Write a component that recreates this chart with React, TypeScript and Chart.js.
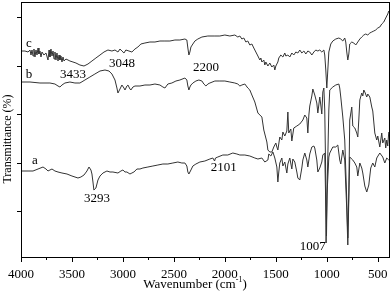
import React, { useEffect, useRef } from 'react';
import { Chart, registerables } from 'chart.js';

Chart.register(...registerables);

// ---- Data (wavenumber in cm-1, transmittance in arbitrary units) ----
const cWave = [3990,3961,3931,3912,3902,3892,3882,3873,3863,3853,3843,3833,3824,3814,3804,3794,3775,3755,3735,3725,3716,3706,3696,3686,3676,3667,3657,3647,3637,3627,3618,3608,3598,3588,3578,3559,3539,3520,3490,3461,3422,3382,3343,3304,3265,3225,3186,3147,3108,3078,3049,3029,3010,2990,2971,2941,2912,2882,2853,2824,2784,2735,2686,2637,2588,2539,2490,2441,2392,2373,2363,2353,2343,2333,2314,2294,2265,2225,2167,2098,2049,2000,1951,1902,1873,1853,1833,1814,1794,1775,1755,1735,1716,1696,1676,1657,1647,1637,1618,1608,1598,1578,1559,1539,1520,1510,1500,1480,1471,1451,1431,1412,1402,1382,1363,1343,1324,1304,1284,1265,1245,1225,1206,1186,1167,1147,1127,1108,1088,1069,1049,1029,1020,1010,1000,990,980,961,941,912,882,863,843,824,814,804,794,784,775,755,735,716,696,676,657,637,618,598,578,559,539,520,500,480,461,441,422,402,392];
const cT = [207,207,206,208,203,208,202,209,201,208,203,210,204,207,201,206,203,205,198,208,201,209,202,207,199,206,198,205,197,203,198,202,196,201,197,199,198,197,196,195,193,192,194,197,200,203,206,208,207,208,206,209,207,205,208,207,206,209,211,214,215,216,216,217,217,217,218,218,219,218,210,203,206,211,214,217,219,221,222,222,222,223,222,223,221,222,219,220,216,217,213,214,210,206,202,198,200,196,198,193,196,192,195,191,193,188,192,196,200,203,201,205,202,203,201,205,203,206,205,208,205,207,204,207,206,203,206,208,207,208,206,208,203,188,170,188,206,214,217,219,220,219,217,220,216,206,198,204,214,216,215,213,216,219,221,223,224,223,225,226,227,228,230,231,234,236,240,244,247];

const bWave = [3990,3912,3814,3716,3667,3637,3618,3598,3569,3520,3471,3422,3373,3324,3275,3225,3176,3137,3108,3078,3059,3049,3029,3010,2990,2980,2961,2951,2931,2922,2902,2882,2833,2784,2735,2686,2637,2608,2588,2559,2520,2480,2441,2392,2373,2363,2353,2343,2333,2314,2284,2255,2225,2206,2186,2167,2147,2098,2049,2000,1951,1902,1873,1853,1833,1804,1775,1755,1735,1706,1676,1637,1618,1588,1578,1559,1539,1520,1500,1490,1480,1461,1441,1431,1412,1392,1382,1373,1353,1343,1324,1294,1265,1235,1216,1196,1186,1176,1167,1147,1137,1118,1098,1088,1069,1059,1049,1039,1029,1020,1010,1003,995,980,971,941,912,882,873,863,843,824,804,794,784,775,755,745,725,706,696,686,676,657,647,637,627,608,598,578,559,549,529,510,500,480,461,451,431,422,412,402,392];
const bT = [176,176,175,175,174,172,171,173,175,176,175,175,178,181,184,187,188,187,184,178,170,165,169,173,170,168,172,173,169,168,171,172,172,173,173,174,173,171,170,174,175,177,178,180,178,172,168,171,173,175,177,178,177,174,172,174,175,177,177,177,176,175,174,172,173,174,170,168,163,156,145,141,128,116,108,106,106,111,115,111,108,121,118,126,122,127,146,125,129,117,130,132,134,138,143,140,125,143,152,162,169,163,155,145,161,153,144,166,170,148,78,22,78,148,168,171,173,174,170,161,141,118,58,20,68,138,151,132,130,125,121,138,158,165,162,168,166,161,164,161,151,147,125,118,122,111,125,115,120,110,118,112,126];

const aWave = [3990,3931,3882,3833,3784,3755,3735,3716,3696,3667,3637,3598,3549,3500,3441,3412,3382,3353,3333,3314,3304,3294,3285,3265,3245,3225,3196,3157,3127,3098,3049,3020,3000,2980,2961,2931,2912,2892,2863,2833,2804,2755,2706,2657,2608,2559,2510,2461,2422,2392,2373,2363,2353,2333,2314,2284,2245,2196,2147,2118,2101,2092,2069,2020,1971,1922,1882,1853,1804,1755,1706,1676,1637,1608,1578,1569,1549,1529,1510,1490,1480,1471,1461,1441,1431,1412,1392,1382,1363,1343,1333,1314,1294,1284,1265,1245,1235,1216,1196,1186,1167,1147,1127,1118,1098,1088,1069,1049,1039,1020,1013,1007,998,980,971,941,912,892,873,863,843,824,804,794,784,775,745,725,706,696,676,657,647,627,608,588,569,549,529,510,480,451,431,412,392];
const aT = [87,87,87,89,91,89,87,88,89,87,86,85,84,82,80,81,83,87,91,88,84,76,68,70,78,82,85,87,86,86,85,87,88,86,86,84,85,86,89,89,90,91,92,93,94,94,95,96,95,95,92,86,84,88,92,94,96,97,99,100,97,100,101,103,103,105,104,103,103,102,100,99,100,96,98,104,102,106,100,91,76,86,95,100,92,96,85,94,100,89,99,96,86,80,78,90,98,105,98,91,104,111,112,110,98,86,90,96,103,105,68,15,63,101,105,111,111,113,98,94,108,98,48,13,58,101,98,95,91,82,95,90,85,72,66,73,90,95,91,100,105,101,95,100,98];

const xMajorTicks = [4000, 3500, 3000, 2500, 2000, 1500, 1000, 500];
const xMinorTicks = [3750, 3250, 2750, 2250, 1750, 1250, 750];
const yTicks = [47, 95.5, 144, 192.5, 241];

const curveLabels = ['c', 'b', 'a'];
const curveLabelWave = [3922, 3922, 3863];
const curveLabelT = [214, 183, 97];

const peakLabels = ['3433', '3048', '2200', '3293', '2101', '1007'];
const peakLabelWave = [3490, 3010, 2186, 3255, 2010, 1137];
const peakLabelT = [183, 194, 190, 59, 90, 11];

const FONT = '"Liberation Serif", "Times New Roman", serif';
const LINE = '#333333';

function toPoints(ws: number[], ts: number[]) {
  return ws.map((w, i) => ({ x: w, y: ts[i] }));
}

const framePlugin = {
  id: 'frame',
  afterDraw(chart: any) {
    const { ctx, chartArea } = chart;
    const xs = chart.scales.x;
    const ys = chart.scales.y;
    const { left, right, top, bottom } = chartArea;
    ctx.save();
    ctx.strokeStyle = '#000';
    ctx.lineWidth = 1;
    ctx.strokeRect(Math.round(left) + 0.5, Math.round(top) + 0.5, Math.round(right - left) - 1, Math.round(bottom - top) - 1);
    ctx.beginPath();
    xMajorTicks.forEach((v) => {
      const px = Math.round(xs.getPixelForValue(v)) + 0.5;
      ctx.moveTo(px, bottom);
      ctx.lineTo(px, bottom + 4);
    });
    xMinorTicks.forEach((v) => {
      const px = Math.round(xs.getPixelForValue(v)) + 0.5;
      ctx.moveTo(px, bottom);
      ctx.lineTo(px, bottom + 2);
    });
    yTicks.forEach((v) => {
      const py = Math.round(ys.getPixelForValue(v)) + 0.5;
      ctx.moveTo(left - 4, py);
      ctx.lineTo(left, py);
    });
    ctx.stroke();

    ctx.fillStyle = '#000';
    ctx.textAlign = 'center';
    ctx.textBaseline = 'middle';
    ctx.font = `13px ${FONT}`;
    curveLabels.forEach((t, i) => {
      ctx.fillText(t, xs.getPixelForValue(curveLabelWave[i]), ys.getPixelForValue(curveLabelT[i]));
    });
    peakLabels.forEach((t, i) => {
      ctx.fillText(t, xs.getPixelForValue(peakLabelWave[i]), ys.getPixelForValue(peakLabelT[i]));
    });

    // x axis title with superscript
    const main = 'Wavenumber (cm';
    const sup = '-1';
    const close = ')';
    ctx.font = `13px ${FONT}`;
    const wMain = ctx.measureText(main).width;
    const wClose = ctx.measureText(close).width;
    ctx.font = `8px ${FONT}`;
    const wSup = ctx.measureText(sup).width;
    const total = wMain + wSup + wClose;
    const cx = 195;
    const ty = bottom + 27;
    let sx = cx - total / 2;
    ctx.textAlign = 'left';
    ctx.font = `13px ${FONT}`;
    ctx.fillText(main, sx, ty);
    sx += wMain;
    ctx.font = `8px ${FONT}`;
    ctx.fillText(sup, sx, ty - 5);
    sx += wSup;
    ctx.font = `13px ${FONT}`;
    ctx.fillText(close, sx, ty);

    // y axis title
    ctx.save();
    ctx.translate(left - 13.5, top + 137);
    ctx.rotate(-Math.PI / 2);
    ctx.textAlign = 'center';
    ctx.font = `12px ${FONT}`;
    ctx.fillText('Transmittance (%)', 0, 0);
    ctx.restore();
    ctx.restore();
  },
};

export default function App() {
  const ref = useRef<HTMLCanvasElement | null>(null);
  useEffect(() => {
    if (!ref.current) return;
    const ds = (ws: number[], ts: number[]) => ({
      data: toPoints(ws, ts),
      borderColor: LINE,
      borderWidth: 1,
      pointRadius: 0,
      tension: 0,
      fill: false,
    });
    const chart = new Chart(ref.current, {
      type: 'line',
      data: { datasets: [ds(aWave, aT), ds(bWave, bT), ds(cWave, cT)] },
      options: {
        animation: false,
        responsive: false,
        parsing: false,
        layout: { padding: { left: 0, top: 2, right: 2, bottom: 0 } },
        plugins: { legend: { display: false }, tooltip: { enabled: false } },
        scales: {
          x: {
            type: 'linear',
            reverse: true,
            min: 380,
            max: 4000,
            afterBuildTicks: (s: any) => { s.ticks = xMajorTicks.map((v) => ({ value: v })); },
            afterFit: (s: any) => { s.height = 37; s.paddingLeft = 0; s.paddingRight = 0; },
            grid: { display: false, drawTicks: false },
            border: { display: false },
            ticks: {
              padding: 9,
              color: '#000',
              maxRotation: 0,
              autoSkip: false,
              font: { family: FONT, size: 13 },
              callback: (v: any) => String(v),
            },
          },
          y: {
            type: 'linear',
            min: 0,
            max: 256,
            afterBuildTicks: (s: any) => { s.ticks = yTicks.map((v) => ({ value: v })); },
            afterFit: (s: any) => { s.width = 21; s.paddingTop = 0; s.paddingBottom = 0; },
            grid: { display: false, drawTicks: false },
            border: { display: false },
            ticks: { display: false },
          },
        },
      },
      plugins: [framePlugin],
    });
    return () => chart.destroy();
  }, []);
  return (
    <div style={{ position: 'absolute', left: 0, top: 0, width: 392, height: 295, background: '#fff' }}>
      <canvas ref={ref} width={392} height={295} style={{ display: 'block' }} />
    </div>
  );
}
